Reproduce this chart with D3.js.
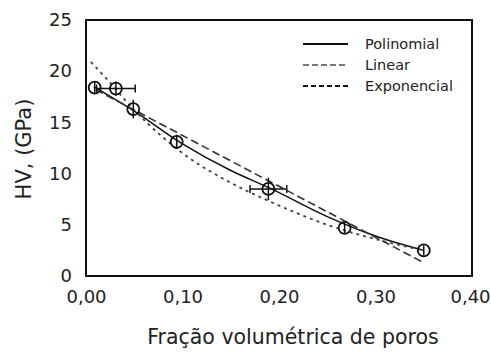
<!DOCTYPE html>
<html>
<head>
<meta charset="utf-8">
<script src="https://cdn.jsdelivr.net/npm/d3@7"></script>
<style>
  body { margin: 0; background: #fff; }
  svg text { font-family: "DejaVu Sans", sans-serif; fill: #222; }
</style>
</head>
<body>
<svg id="chart" width="491" height="352"></svg>
<script>
// measured points
var poros = [0.009, 0.031, 0.049, 0.094, 0.189, 0.268, 0.350];
var hv = [18.4, 18.3, 16.3, 13.1, 8.5, 4.7, 2.5];
var hvErr = [0.6, 0.7, 0.9, 0.7, 1.1, 0.5, 0.5];
var porosErr = [0, 0.02, 0, 0, 0.019, 0, 0];

// fitted curves
var polyX = [0.008, 0.05, 0.10, 0.15, 0.19, 0.25, 0.30, 0.35];
var polyY = [18.5, 16.1, 12.9, 10.3, 8.6, 5.8, 3.9, 2.5];
var linX = [0.01, 0.35];
var linY = [18.2, 1.3];
var expX = [0.005, 0.02, 0.05, 0.10, 0.15, 0.19, 0.25, 0.30, 0.35];
var expY = [20.9, 19.4, 16.2, 12.0, 9.1, 7.3, 5.0, 3.6, 2.5];

var xTicks = [0, 0.1, 0.2, 0.3, 0.4];
var yTicks = [0, 5, 10, 15, 20, 25];
var legendNames = ["Polinomial", "Linear", "Exponencial"];

(function () {
  "use strict";
  var svg = d3.select("#chart"),
    left = 86, right = 472, plotTop = 20, bottom = 276;

  var x = d3.scaleLinear().domain([0, 0.4]).range([left, right]);
  var y = d3.scaleLinear().domain([0, 25]).range([bottom, plotTop]);

  var styles = [
    {stroke: "#111", dash: null, width: 1.5},
    {stroke: "#333", dash: "8,4", width: 1.6},
    {stroke: "#444", dash: "3,4", width: 1.8}
  ];

  // axes
  var xAxis = svg.append("g")
    .attr("transform", "translate(0," + bottom + ")")
    .call(d3.axisBottom(x).tickValues(xTicks).tickSize(0).tickPadding(14)
      .tickFormat(function (d) { return d3.format(".2f")(d).replace(".", ","); }));
  var yAxis = svg.append("g")
    .attr("transform", "translate(" + left + ",0)")
    .call(d3.axisLeft(y).tickValues(yTicks).tickSize(0).tickPadding(14));
  [xAxis, yAxis].forEach(function (a) {
    a.select(".domain").remove();
    a.selectAll("text").style("font-family", "DejaVu Sans, sans-serif")
      .style("font-size", "18px").attr("fill", "#222");
  });
  xAxis.selectAll("text").filter(function (d) { return d === 0.4; })
    .attr("dx", -2);

  // frame
  svg.append("rect")
    .attr("x", left).attr("y", plotTop)
    .attr("width", right - left).attr("height", bottom - plotTop)
    .attr("fill", "none").attr("stroke", "#111").attr("stroke-width", 2);

  // curves
  var line = d3.line()
    .x(function (d) { return x(d[0]); })
    .y(function (d) { return y(d[1]); })
    .curve(d3.curveMonotoneX);

  [[polyX, polyY], [linX, linY], [expX, expY]].forEach(function (s, i) {
    svg.append("path")
      .datum(d3.zip(s[0], s[1]))
      .attr("d", line)
      .attr("fill", "none")
      .attr("stroke", styles[i].stroke)
      .attr("stroke-width", styles[i].width)
      .attr("stroke-dasharray", styles[i].dash);
  });

  // points with error bars
  var pts = svg.append("g").selectAll("g")
    .data(d3.range(poros.length))
    .enter().append("g");

  pts.append("line")
    .attr("x1", function (i) { return x(poros[i]); })
    .attr("x2", function (i) { return x(poros[i]); })
    .attr("y1", function (i) { return y(hv[i] - hvErr[i]); })
    .attr("y2", function (i) { return y(hv[i] + hvErr[i]); })
    .attr("stroke", "#111").attr("stroke-width", 1.5);

  pts.filter(function (i) { return porosErr[i] > 0; })
    .each(function (i) {
      var g = d3.select(this),
        x1 = x(poros[i] - porosErr[i]), x2 = x(poros[i] + porosErr[i]), yy = y(hv[i]);
      g.append("line").attr("x1", x1).attr("x2", x2).attr("y1", yy).attr("y2", yy)
        .attr("stroke", "#111").attr("stroke-width", 1.5);
      [x1, x2].forEach(function (xx) {
        g.append("line").attr("x1", xx).attr("x2", xx).attr("y1", yy - 4).attr("y2", yy + 4)
          .attr("stroke", "#111").attr("stroke-width", 1.5);
      });
    });

  pts.append("circle")
    .attr("cx", function (i) { return x(poros[i]); })
    .attr("cy", function (i) { return y(hv[i]); })
    .attr("r", 6)
    .attr("fill", "none")
    .attr("stroke", "#111")
    .attr("stroke-width", 1.8);

  // legend
  var legend = svg.append("g").selectAll("g")
    .data(legendNames)
    .enter().append("g")
    .attr("transform", function (d, i) { return "translate(303," + (44 + i * 21) + ")"; });
  legend.append("line")
    .attr("x1", 0).attr("x2", 45).attr("y1", 0).attr("y2", 0)
    .attr("stroke", function (d, i) { return i === 1 ? "#777" : "#111"; })
    .attr("stroke-width", 1.8)
    .attr("stroke-dasharray", function (d, i) { return i === 0 ? null : (i === 1 ? "6,3" : "5,3"); });
  legend.append("text")
    .attr("x", 62).attr("y", 5)
    .style("font-size", "14.5px")
    .text(function (d) { return d; });

  // axis titles
  svg.append("text")
    .attr("x", (left + right) / 2 + 14).attr("y", 344)
    .attr("text-anchor", "middle")
    .style("font-size", "20.5px")
    .text("Fração volumétrica de poros");
  svg.append("text")
    .attr("transform", "translate(31,149) rotate(-90)")
    .attr("text-anchor", "middle")
    .style("font-size", "21px")
    .text("HV, (GPa)");
}());
</script>
</body>
</html>
